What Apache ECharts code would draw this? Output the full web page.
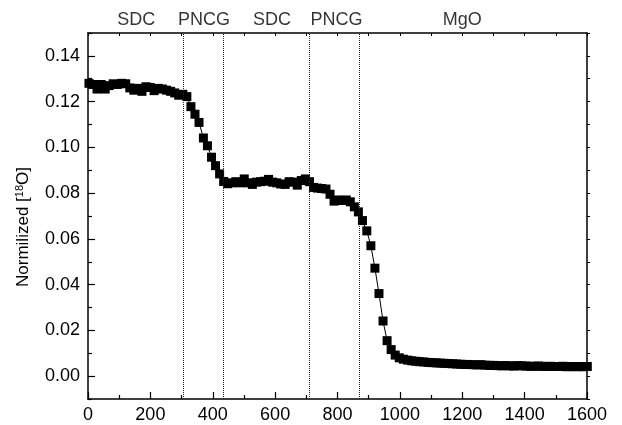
<!DOCTYPE html>
<html>
<head>
<meta charset="utf-8">
<script src="https://cdn.jsdelivr.net/npm/echarts@6/dist/echarts.min.js"></script>
<style>
html, body { margin: 0; padding: 0; background: #fff; }
#chart { width: 622px; height: 425px; }
</style>
</head>
<body>
<div id="chart"></div>
<script>
// time axis (s) and normalized 18O signal
var times = [3, 16, 29, 42, 55, 68, 81, 94, 108, 121, 134, 147, 160, 173, 186, 199, 212, 225, 239, 252,
    265, 278, 291, 304, 317, 330, 343, 356, 370, 383, 396, 409, 422, 435, 448, 461, 474, 487, 501, 514,
    527, 540, 553, 566, 579, 592, 605, 618, 632, 645, 658, 671, 684, 697, 710, 723, 736, 749, 763, 776,
    789, 802, 815, 828, 841, 854, 867, 880, 894, 907, 920, 933, 946, 959, 972, 985, 998, 1011, 1025, 1038,
    1051, 1064, 1077, 1090, 1103, 1116, 1129, 1142, 1156, 1169, 1182, 1195, 1208, 1221, 1234, 1247, 1260, 1273, 1287, 1300,
    1313, 1326, 1339, 1352, 1365, 1378, 1391, 1404, 1418, 1431, 1444, 1457, 1470, 1483, 1496, 1509, 1522, 1535, 1549, 1562,
    1575, 1588, 1601];
var norm18O = [0.1280, 0.1275, 0.1255, 0.1275, 0.1255, 0.1270, 0.1278, 0.1275, 0.1280, 0.1278,
    0.1260, 0.1250, 0.1258, 0.1245, 0.1265, 0.1262, 0.1248, 0.1258, 0.1255, 0.1250,
    0.1245, 0.1238, 0.1228, 0.1232, 0.1222, 0.1178, 0.1145, 0.1109, 0.1041, 0.1007,
    0.0957, 0.0920, 0.0884, 0.0851, 0.0841, 0.0845, 0.0850, 0.0845, 0.0862, 0.0845,
    0.0838, 0.0848, 0.0850, 0.0852, 0.0860, 0.0848, 0.0845, 0.0840, 0.0838, 0.0850,
    0.0848, 0.0835, 0.0855, 0.0862, 0.0850, 0.0825, 0.0822, 0.0820, 0.0818, 0.0795,
    0.0765, 0.0770, 0.0768, 0.0770, 0.0762, 0.0740, 0.0718, 0.0680, 0.0635, 0.0570,
    0.0472, 0.0361, 0.0241, 0.0155, 0.0116, 0.0092, 0.0080, 0.0074, 0.0070, 0.0067,
    0.0065, 0.0063, 0.0062, 0.0060, 0.0059, 0.0058, 0.0057, 0.0056, 0.0055, 0.0054,
    0.0053, 0.0052, 0.0051, 0.0051, 0.0050, 0.0049, 0.0050, 0.0048, 0.0047, 0.0047,
    0.0046, 0.0045, 0.0046, 0.0045, 0.0044, 0.0046, 0.0045, 0.0044, 0.0043, 0.0043,
    0.0044, 0.0043, 0.0042, 0.0043, 0.0042, 0.0042, 0.0043, 0.0041, 0.0042, 0.0041,
    0.0042, 0.0041, 0.0042];

// layer boundaries (dotted lines) and the layer names written above the frame
var boundaries = [304, 434, 710, 871];
var layerNames = ['SDC', 'PNCG', 'SDC', 'PNCG', 'MgO'];
var layerNameX = [155, 372, 590, 797, 1200];

// y tick values
var yMajorTicks = [0, 0.02, 0.04, 0.06, 0.08, 0.10, 0.12, 0.14];
var yMinorTicks = [-0.01, 0.01, 0.03, 0.05, 0.07, 0.09, 0.11, 0.13, 0.15];

var FONT = 'Liberation Sans, Arial, sans-serif';

var seriesData = [];
for (var i = 0; i < times.length; i++) {
    seriesData.push([times[i], norm18O[i]]);
}
var layerData = [];
for (var j = 0; j < layerNames.length; j++) {
    layerData.push({ value: [layerNameX[j], 0.15], name: layerNames[j] });
}

var chart = echarts.init(document.getElementById('chart'));

var axisLine = { show: true, onZero: false, lineStyle: { color: '#000', width: 1.5 } };

chart.setOption({
    animation: false,
    backgroundColor: '#fff',
    grid: { left: 88, right: 35, top: 33, bottom: 26 },
    xAxis: [{
        type: 'value', position: 'bottom', min: 0, max: 1600, interval: 200,
        axisLine: axisLine,
        axisTick: { inside: true, length: 7, lineStyle: { color: '#000', width: 1.2 } },
        minorTick: { show: true, splitNumber: 2, length: 4, lineStyle: { color: '#000', width: 1.2 } },
        splitLine: { show: false },
        axisLabel: {
            color: '#000', fontSize: 18, fontFamily: FONT, margin: 7,
            formatter: function (v) { return String(v); }
        }
    }, {
        type: 'value', position: 'top', min: 0, max: 1600, interval: 100,
        axisLine: axisLine,
        axisTick: { inside: true, length: 3, lineStyle: { color: '#000' } },
        splitLine: { show: false },
        axisLabel: { show: false }
    }],
    yAxis: [{
        type: 'value', position: 'left', min: -0.01, max: 0.15,
        axisLine: axisLine,
        axisTick: { inside: true, length: 7, customValues: yMajorTicks, lineStyle: { color: '#000', width: 1.2 } },
        splitLine: { show: false },
        axisLabel: {
            customValues: yMajorTicks, color: '#000', fontSize: 18, fontFamily: FONT, margin: 8,
            formatter: function (v) { return v.toFixed(2); }
        },
        name: 'Normilized [{sup|18}O]',
        nameLocation: 'middle',
        nameGap: 55,
        nameTextStyle: {
            color: '#000', fontSize: 17, fontFamily: FONT, padding: [0, 22, 0, 0],
            rich: { sup: { fontSize: 11, fontFamily: FONT, color: '#000', verticalAlign: 'top', padding: [0, 0, 8, 0] } }
        }
    }, {
        type: 'value', position: 'left', min: -0.01, max: 0.15,
        axisLine: { show: false, onZero: false },
        axisTick: { inside: true, length: 4, customValues: yMinorTicks, lineStyle: { color: '#000', width: 1.2 } },
        splitLine: { show: false },
        axisLabel: { show: false }
    }, {
        type: 'value', position: 'right', min: -0.01, max: 0.15, interval: 0.01,
        axisLine: axisLine,
        axisTick: { inside: false, length: 3, lineStyle: { color: '#000' } },
        splitLine: { show: false },
        axisLabel: { show: false }
    }],
    series: [{
        type: 'line',
        data: seriesData,
        clip: false,
        symbol: 'rect',
        symbolSize: 9,
        itemStyle: { color: '#000' },
        lineStyle: { color: '#000', width: 1 },
        markLine: {
            silent: true,
            symbol: ['none', 'none'],
            label: { show: false },
            lineStyle: { color: '#222', type: 'dotted', width: 1 },
            data: boundaries.map(function (b) { return { xAxis: b }; })
        },
        z: 3
    }, {
        type: 'scatter',
        data: layerData,
        symbolSize: 0,
        clip: false,
        silent: true,
        label: {
            show: true, position: 'top', distance: 4,
            formatter: '{b}', color: '#000', fontSize: 18, fontFamily: FONT
        }
    }]
});
</script>
</body>
</html>
